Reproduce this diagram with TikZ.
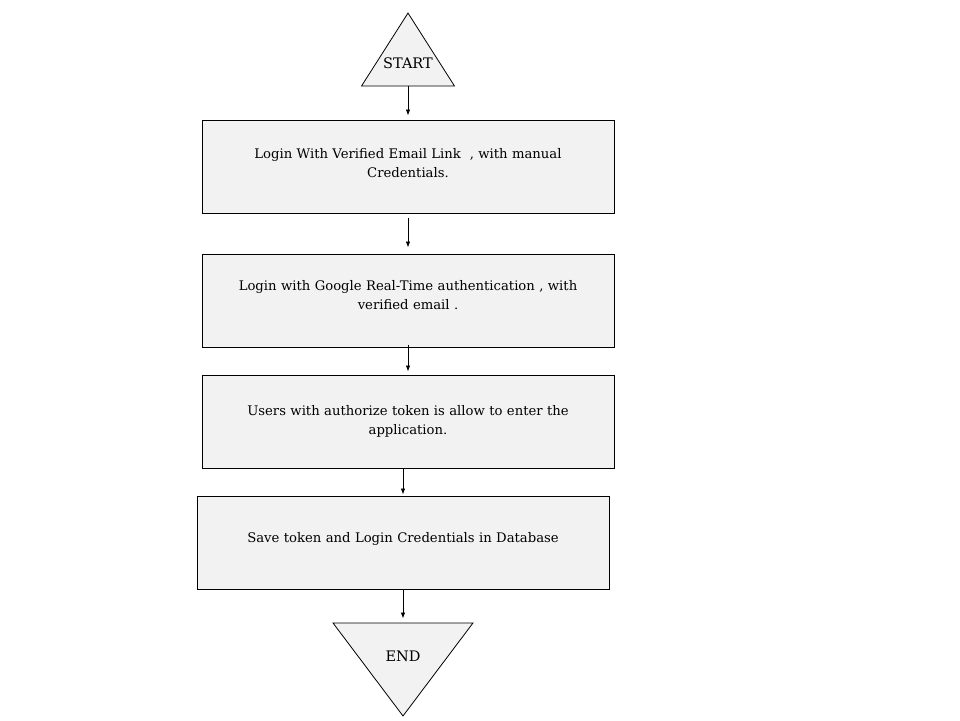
\documentclass[tikz,border=0pt]{standalone}
\usepackage{fontspec}
\setmainfont{DejaVu Serif}
\usepackage{tikz}
\usetikzlibrary{arrows.meta, positioning, shapes.geometric}
\definecolor{boxgray}{HTML}{F2F2F2}

\begin{document}
\begin{tikzpicture} [x=1pt, y=-1pt, font=\fontsize{13.2}{19.5}\selectfont,
  step box/.style ={rectangle, draw, line width=1pt, fill=boxgray, minimum width=412pt, minimum height=93pt, text width=390pt, align=center, inner sep=0pt},
  lift/.style ={text depth=#1},
  term/.style ={isosceles triangle, isosceles triangle stretches, draw, line width=0.8pt, fill=boxgray, inner sep=0pt},
  term text/.style ={font=\fontsize{14.5}{17}\selectfont},
  flow/.style ={-{Latex[length=6pt,width=4.5pt]}, line width=0.8pt}]
\useasboundingbox (0,0) rectangle (960,720);
\node[term, shape border rotate=90, minimum width=93pt, minimum height=73pt, anchor=apex, label={[term text, yshift=-3pt]center:START}] (S) at (408,12) {};
\node[step box, lift=27pt] (B1) at (408,166.5) {Login With Verified Email Link~ , with manual\\Credentials.};
\node[step box, lift=31pt] (B2) at (408,300.5) {Login with Google Real-Time authentication , with\\verified email .};
\node[step box] (B3) at (408,421.5) {Users with authorize token is allow to enter the\\application.};
\node[step box, lift=11pt] (B4) at (403,542.5) {Save token and Login Credentials in Database};
\node[term, shape border rotate=270, minimum width=140pt, minimum height=93pt, anchor=apex, label={[term text, yshift=2pt]center:END}] (E) at (403,717) {};
\draw[flow, shorten >=4pt] (S.south) -- (B1.north);
\draw[flow, shorten <=4pt, shorten >=6pt] (B1.south) -- (B2.north);
\draw[flow, shorten <=-3pt, shorten >=3pt] (B2.south) -- (B3.north);
\draw[flow, shorten >=1pt] (B3.south -| B4.north) -- (B4.north);
\draw[flow, shorten >=4pt] (B4.south) -- (E.north);
\end{tikzpicture}
\end{document}
